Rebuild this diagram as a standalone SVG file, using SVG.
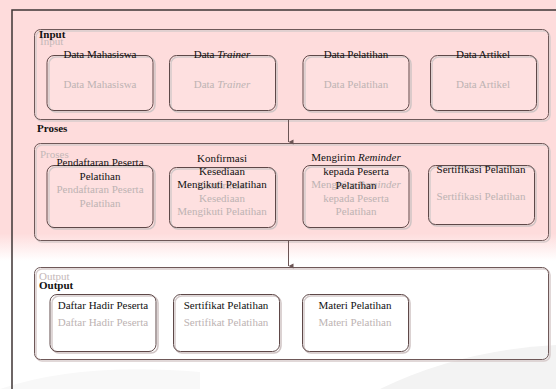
<svg xmlns="http://www.w3.org/2000/svg" width="556" height="389" viewBox="0 0 556 389">
<defs>
<marker id="ah" markerWidth="6" markerHeight="6" refX="3" refY="5" orient="auto-start-reverse" markerUnits="userSpaceOnUse" viewBox="0 0 6 6">
<path d="M0.5,0 L3,5 L5.5,0 Z" fill="#6b5555"/>
</marker>
<linearGradient id="bg" x1="0" y1="0" x2="0" y2="1">
<stop offset="0" stop-color="#fedcdc"/>
<stop offset="0.6" stop-color="#fedcdc"/>
<stop offset="0.67" stop-color="#ffffff"/>
<stop offset="1" stop-color="#ffffff"/>
</linearGradient>
</defs>
<style>
.cont{fill:none;stroke:#6e5858;stroke-width:1}
.contsh{fill:none;stroke:#d8cccc;stroke-width:1.5}
.box{fill:#ffffff;fill-opacity:0.12;stroke:#5e4848;stroke-width:1}
.boxsh{fill:none;stroke:#cfc4c4;stroke-width:1.5}
.t{font-family:"Liberation Serif","Times New Roman",serif;font-size:11px;fill:#111111;text-anchor:middle}
.g{font-family:"Liberation Serif","Times New Roman",serif;font-size:11px;fill:#bdb3b3;text-anchor:middle}
.h{font-family:"Liberation Serif","Times New Roman",serif;font-size:11px;font-weight:bold;fill:#111111}
.hg{font-family:"Liberation Serif","Times New Roman",serif;font-size:11px;fill:#c4b8b8}
.conn{stroke:#6b5555;stroke-width:1;fill:none}
</style>
<rect x="0" y="0" width="556" height="389" fill="url(#bg)"/>
<path d="M380,389 Q460,350 556,345 L556,389 Z" fill="#f3f3f3"/>
<path d="M0,389 Q80,362 200,372 L200,389 Z" fill="#f8f8f8"/>
<rect x="12" y="10" width="560" height="400" fill="none" stroke="#3e3535" stroke-width="1.5"/>

<g id="input">
<rect class="contsh" x="36" y="31" width="514" height="90" rx="6"/>
<rect class="cont" x="34.5" y="29.5" width="514" height="90" rx="6"/>
<text class="hg" x="40" y="45">Input</text>
<text class="h" x="39" y="38">Input</text>
</g>
<g id="n-data-mahasiswa">
<rect class="boxsh" x="49" y="57" width="106" height="55" rx="7"/>
<rect class="box" x="47" y="55.5" width="106" height="55" rx="7"/>
<text class="g" x="100" y="88">Data Mahasiswa</text>
<text class="t" x="100" y="58">Data Mahasiswa</text>
</g>
<g id="n-data-trainer">
<rect class="boxsh" x="171" y="57" width="106" height="55" rx="7"/>
<rect class="box" x="169.5" y="55.5" width="106" height="55" rx="7"/>
<text class="g" x="222" y="88">Data <tspan font-style="italic">Trainer</tspan></text>
<text class="t" x="222" y="58">Data <tspan font-style="italic">Trainer</tspan></text>
</g>
<g id="n-data-pelatihan">
<rect class="boxsh" x="305" y="57" width="106" height="55" rx="7"/>
<rect class="box" x="303" y="55.5" width="106" height="55" rx="7"/>
<text class="g" x="356" y="88">Data Pelatihan</text>
<text class="t" x="356" y="58">Data Pelatihan</text>
</g>
<g id="n-data-artikel">
<rect class="boxsh" x="432" y="57" width="106" height="55" rx="7"/>
<rect class="box" x="430.5" y="55.5" width="106" height="55" rx="7"/>
<text class="g" x="483" y="88">Data Artikel</text>
<text class="t" x="483" y="58">Data Artikel</text>
</g>

<text class="h" x="37" y="132">Proses</text>
<g id="proses">
<rect class="contsh" x="36" y="145" width="514" height="97" rx="6"/>
<rect class="cont" x="34.5" y="143.5" width="514" height="97" rx="6"/>
<text class="hg" x="40" y="158">Proses</text>
</g>
<g id="n-pendaftaran">
<rect class="boxsh" x="49" y="167" width="106" height="62" rx="7"/>
<rect class="box" x="47" y="165.5" width="106" height="62" rx="7"/>
<text class="g" x="100" y="193">Pendaftaran Peserta</text>
<text class="g" x="100" y="207">Pelatihan</text>
<text class="t" x="100" y="166">Pendaftaran Peserta</text>
<text class="t" x="100" y="180">Pelatihan</text>
</g>
<g id="n-konfirmasi">
<rect class="boxsh" x="171" y="169" width="106" height="60" rx="7"/>
<rect class="box" x="169.5" y="167.5" width="106" height="60" rx="7"/>
<text class="g" x="222" y="189">Konfirmasi</text>
<text class="g" x="222" y="202">Kesediaan</text>
<text class="g" x="222" y="215">Mengikuti Pelatihan</text>
<text class="t" x="222" y="162">Konfirmasi</text>
<text class="t" x="222" y="175">Kesediaan</text>
<text class="t" x="222" y="188">Mengikuti Pelatihan</text>
</g>
<g id="n-reminder">
<rect class="boxsh" x="305" y="167" width="106" height="62" rx="7"/>
<rect class="box" x="303" y="165.5" width="106" height="62" rx="7"/>
<text class="g" x="356" y="188">Mengirim <tspan font-style="italic">Reminder</tspan></text>
<text class="g" x="356" y="202">kepada Peserta</text>
<text class="g" x="356" y="215">Pelatihan</text>
<text class="t" x="356" y="161">Mengirim <tspan font-style="italic">Reminder</tspan></text>
<text class="t" x="356" y="175">kepada Peserta</text>
<text class="t" x="356" y="189">Pelatihan</text>
</g>
<g id="n-sertifikasi">
<rect class="boxsh" x="430" y="167" width="106" height="59" rx="7"/>
<rect class="box" x="428.5" y="165.5" width="106" height="59" rx="7"/>
<text class="g" x="481" y="200">Sertifikasi Pelatihan</text>
<text class="t" x="481" y="173">Sertifikasi Pelatihan</text>
</g>

<g id="output">
<rect class="contsh" x="36" y="269" width="514" height="92" rx="6"/>
<rect class="cont" x="34.5" y="267.5" width="514" height="92" rx="6"/>
<text class="hg" x="39" y="280">Output</text>
<text class="h" x="39" y="289">Output</text>
</g>
<g id="n-daftar-hadir">
<rect class="boxsh" x="52" y="296" width="106" height="57" rx="7"/>
<rect class="box" x="50" y="294.5" width="106" height="57" rx="7"/>
<text class="g" x="103" y="326">Daftar Hadir Peserta</text>
<text class="t" x="103" y="309">Daftar Hadir Peserta</text>
</g>
<g id="n-sertifikat">
<rect class="boxsh" x="175" y="296" width="106" height="57" rx="7"/>
<rect class="box" x="173.5" y="294.5" width="106" height="57" rx="7"/>
<text class="g" x="226" y="326">Sertifikat Pelatihan</text>
<text class="t" x="226" y="309">Sertifikat Pelatihan</text>
</g>
<g id="n-materi">
<rect class="boxsh" x="304" y="296" width="106" height="57" rx="7"/>
<rect class="box" x="302.5" y="294.5" width="106" height="57" rx="7"/>
<text class="g" x="355" y="326">Materi Pelatihan</text>
<text class="t" x="355" y="309">Materi Pelatihan</text>
</g>

<g id="connectors">
<line class="conn" x1="288.5" y1="120" x2="288.5" y2="142" marker-end="url(#ah)"/>
<line class="conn" x1="288.5" y1="241" x2="288.5" y2="266" marker-end="url(#ah)"/>
</g>
</svg>
